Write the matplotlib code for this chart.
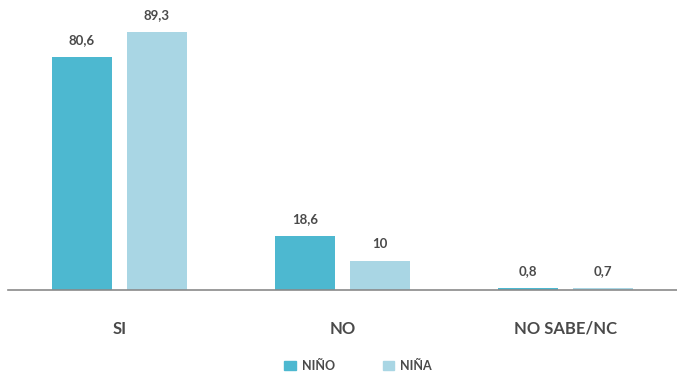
import matplotlib.pyplot as plt
import numpy as np
from matplotlib.patches import Patch

categories = ["SI", "NO", "NO SABE/NC"]
nino = [80.6, 18.6, 0.8]
nina = [89.3, 10, 0.7]
labels_nino = ["80,6", "18,6", "0,8"]
labels_nina = ["89,3", "10", "0,7"]

c_nino = "#4db8d0"
c_nina = "#a9d6e4"
txt = "#4a4a4a"

plt.rcParams['font.family'] = ['Lato', 'DejaVu Sans']

fig = plt.figure(figsize=(6.77, 3.77), dpi=100)
ax = fig.add_axes([8/677, 87/377, 669/677, 289/377])

x = np.arange(len(categories))
w = 0.27
off = 0.168
ax.bar(x - off, nino, w, color=c_nino, label="NIÑO")
ax.bar(x + off, nina, w, color=c_nina, label="NIÑA")

for xi, v, s in zip(x - off, nino, labels_nino):
    ax.text(xi, v + 3.8, s, ha='center', va='bottom', fontsize=9.5,
            fontweight='bold', color=txt)
for xi, v, s in zip(x + off, nina, labels_nina):
    ax.text(xi, v + 3.8, s, ha='center', va='bottom', fontsize=9.5,
            fontweight='bold', color=txt)

ax.set_xlim(-0.5, 2.5)
ax.set_ylim(0, 100)
for sp in ['top', 'right', 'left']:
    ax.spines[sp].set_visible(False)
ax.spines['bottom'].set_color('#8a8a8a')
ax.spines['bottom'].set_linewidth(1.2)
ax.set_yticks([])
ax.set_xticks(x)
ax.set_xticklabels(categories, fontsize=12, color=txt, fontweight='bold')
ax.tick_params(axis='x', length=0, pad=22)

fig.legend(handles=[Patch(color=c_nino, label="NIÑO"), Patch(color=c_nina, label="NIÑA")],
           loc='center', bbox_to_anchor=(358/677, 1 - 366/377), ncol=2, frameon=False,
           prop={'size': 9, 'weight': 'bold'}, handlelength=0.9, handleheight=0.8,
           columnspacing=3.8, handletextpad=0.5, labelcolor=txt)

fig.savefig("out.png", dpi=100)
